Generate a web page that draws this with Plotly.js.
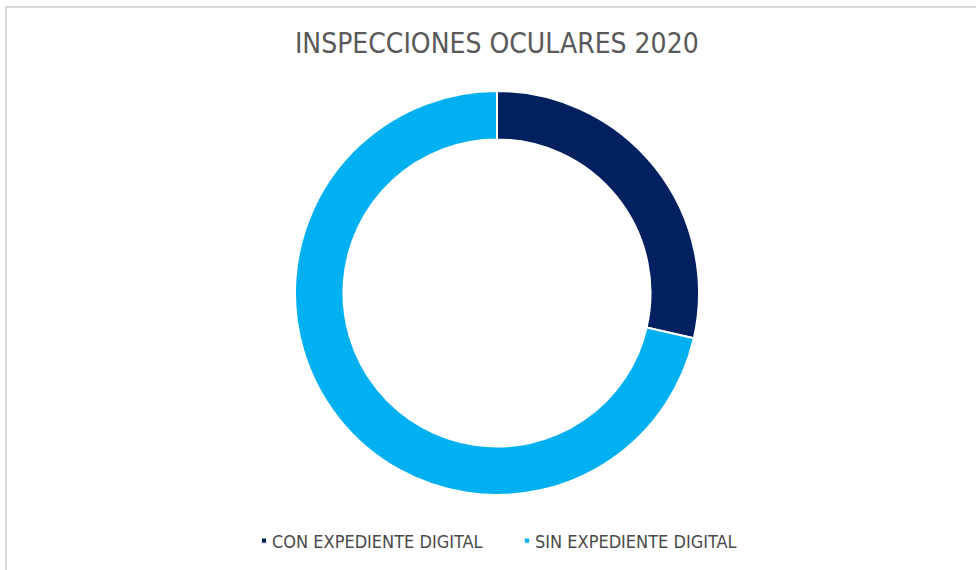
<!DOCTYPE html>
<html><head><meta charset="utf-8">
<script src="https://cdn.plot.ly/plotly-3.0.1.min.js"></script>
<style>
body{margin:0;padding:0;background:#fff;}
#wrap{position:relative;width:976px;height:570px;}
#chart{position:absolute;left:0;top:0;width:976px;height:570px;}
#frame{position:absolute;left:5px;top:6px;width:971px;height:564px;border-top:2px solid #d9d9d9;border-left:2px solid #d9d9d9;pointer-events:none;}
</style></head>
<body><div id="wrap"><div id="chart"></div><div id="frame"></div></div>
<script>
const categories = ["CON EXPEDIENTE DIGITAL", "SIN EXPEDIENTE DIGITAL"];
const values = [28.6, 71.4];
const colors = ["#002060", "#00B0F0"];
const chartTitle = "INSPECCIONES OCULARES 2020";

const data = [{
  type: "pie",
  labels: categories,
  values: values,
  hole: 0.76,
  sort: false,
  direction: "clockwise",
  rotation: 0,
  textinfo: "none",
  hoverinfo: "label+value",
  marker: {colors: colors, line: {color: "#ffffff", width: 2}}
}];

const FONT = "Liberation Sans Narrow, DejaVu Sans Condensed, sans-serif";
const layout = {
  width: 976, height: 570,
  margin: {l: 18, r: 0, t: 91, b: 75},
  paper_bgcolor: "#ffffff",
  title: {text: chartTitle, x: 0.509, xref: "container", y: 0.925, yref: "container", yanchor: "middle",
          font: {family: FONT, size: 28, color: "#595959"}},
  showlegend: true,
  legend: {orientation: "h", x: 244/976, xanchor: "left", xref: "container", y: 0.051, yref: "container", yanchor: "middle",
           font: {family: FONT, size: 18, color: "#4a4a4a"},
           entrywidth: 218, entrywidthmode: "pixels", itemwidth: 30, traceorder: "normal"}
};

Plotly.newPlot("chart", data, layout, {displayModeBar: false, staticPlot: true}).then(function(){
  document.querySelectorAll(".legendpoints path").forEach(function(p){
    var t = p.getAttribute("transform") || "";
    p.setAttribute("transform", t + " scale(0.42)");
  });
  document.querySelectorAll(".legendtext").forEach(function(t){
    t.setAttribute("x", 28);
  });
});
</script></body></html>
